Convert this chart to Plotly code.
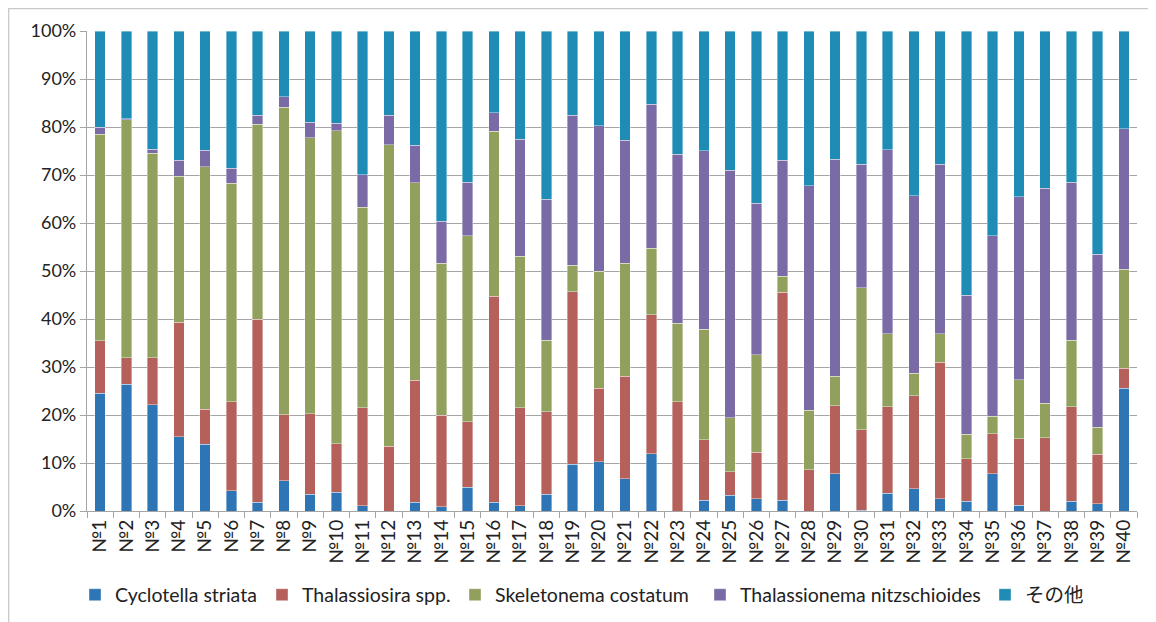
import plotly.graph_objects as go

categories = [f"№{i}" for i in range(1, 41)]

cyclotella = [24.5, 26.4, 22.1, 15.5, 13.9, 4.2, 1.8, 6.3, 3.5, 3.9,
              1.1, 0.0, 1.8, 0.9, 5.0, 1.8, 1.1, 3.5, 9.7, 10.3,
              6.7, 11.9, 0.0, 2.2, 3.3, 2.6, 2.2, 0.0, 7.8, 0.2,
              3.7, 4.6, 2.6, 2.0, 7.8, 1.2, 0.0, 2.0, 1.5, 25.6]
thalassiosira = [11.0, 5.5, 9.8, 23.8, 7.3, 18.6, 38.1, 13.8, 16.8, 10.1,
                 20.4, 13.5, 25.4, 19.0, 13.6, 42.9, 20.4, 17.2, 36.0, 15.3,
                 21.4, 29.0, 22.8, 12.6, 4.9, 9.6, 43.4, 8.6, 14.1, 16.7,
                 18.0, 19.4, 28.4, 8.9, 8.3, 13.9, 15.3, 19.7, 10.3, 4.1]
skeletonema = [43.0, 49.6, 42.6, 30.4, 50.5, 45.5, 40.7, 64.0, 57.5, 65.2,
               41.8, 62.8, 41.2, 31.7, 38.7, 34.4, 31.6, 14.9, 5.5, 24.4,
               23.5, 13.8, 16.3, 23.1, 11.2, 20.4, 3.3, 12.4, 6.2, 29.6,
               15.2, 4.7, 5.9, 5.1, 3.6, 12.2, 7.1, 13.9, 5.6, 20.7]
thalassionema = [1.4, 0.2, 0.9, 3.4, 3.5, 3.1, 1.8, 2.2, 3.2, 1.6,
                 6.8, 6.1, 7.8, 8.8, 11.2, 3.9, 24.3, 29.3, 31.2, 30.3,
                 25.6, 30.0, 35.2, 37.2, 51.6, 31.5, 24.2, 46.8, 45.2, 25.7,
                 38.4, 37.0, 35.3, 28.9, 37.6, 38.2, 44.8, 32.9, 36.1, 29.2]
others = [20.1, 18.3, 24.6, 26.9, 24.8, 28.6, 17.6, 13.7, 19.0, 19.2,
          29.9, 17.6, 23.8, 39.6, 31.5, 17.0, 22.6, 35.1, 17.6, 19.7,
          22.8, 15.3, 25.7, 24.9, 29.0, 35.9, 26.9, 32.2, 26.7, 27.8,
          24.7, 34.3, 27.8, 55.1, 42.7, 34.5, 32.8, 31.5, 46.5, 20.4]

series_names = ["Cyclotella striata", "Thalassiosira spp.", "Skeletonema costatum",
                "Thalassionema nitzschioides", "その他"]
series_values = [cyclotella, thalassiosira, skeletonema, thalassionema, others]
colors = ["#2E75B6", "#B5605A", "#92A05E", "#7A6AA5", "#1E8CB5"]

# page offset (body margin) and figure size
OFF = 8
W, H = 1156 - OFF, 622 - OFF
# plot area in page pixels (reference): x 87..1137, y 31..511
L = 87 - OFF
T = 31 - OFF
R = W - (1137 - OFF)
B = H - (511 - OFF)
pw, ph = W - L - R, H - T - B

def px2x(px):  # page px -> paper x
    return (px - OFF - L) / pw

def py2y(py):  # page py -> paper y
    return (H - B - (py - OFF)) / ph

legend_px = [75, 262, 455, 700, 985]
legend_names = ["legend", "legend2", "legend3", "legend4", "legend5"]

fig = go.Figure()
for name, vals, col, lg in zip(series_names, series_values, colors, legend_names):
    fig.add_trace(go.Bar(
        x=categories, y=vals, name=name, legend=lg,
        marker=dict(color=col, line=dict(color="rgba(255,255,255,0.55)", width=0.7)),
    ))

font_family = "Lato, 'Open Sans', 'Noto Sans CJK JP', sans-serif"
layout_legends = {}
for lg, lx in zip(legend_names, legend_px):
    layout_legends[lg] = dict(
        x=px2x(lx), xanchor="left", y=py2y(595), yanchor="middle",
        orientation="h", bgcolor="rgba(0,0,0,0)",
        font=dict(family=font_family, size=19.5, color="#222222"),
    )

fig.update_layout(
    width=W, height=H,
    margin=dict(l=L, r=R, t=T, b=B, autoexpand=False),
    barmode="stack", bargap=0.6,
    plot_bgcolor="white", paper_bgcolor="white",
    font=dict(family=font_family, size=18, color="#222222"),
    showlegend=True,
    **layout_legends,
    xaxis=dict(
        type="category", tickangle=-90, showgrid=False,
        showline=True, linecolor="#A5A5A5", linewidth=1.3,
        ticks="outside", tickson="boundaries", ticklen=6, tickcolor="#A5A5A5",
        tickfont=dict(family=font_family, size=19, color="#222222"),
        range=[-0.5, 39.5], automargin=False,
    ),
    yaxis=dict(
        range=[0, 100], dtick=10, ticksuffix="%",
        showgrid=True, gridcolor="#A5A5A5", gridwidth=1.3,
        showline=True, linecolor="#A5A5A5", linewidth=1.3,
        ticks="outside", ticklen=6, tickcolor="#A5A5A5",
        tickfont=dict(family=font_family, size=18, color="#222222"),
        zeroline=False, automargin=False,
    ),
    shapes=[dict(
        type="rect", xref="paper", yref="paper",
        x0=px2x(OFF + 0.7), x1=px2x(1200), y0=py2y(700), y1=py2y(OFF + 0.7),
        line=dict(color="#C8C8C8", width=1.3), fillcolor="rgba(0,0,0,0)",
        layer="below",
    )],
)

fig.write_html("out.html")
